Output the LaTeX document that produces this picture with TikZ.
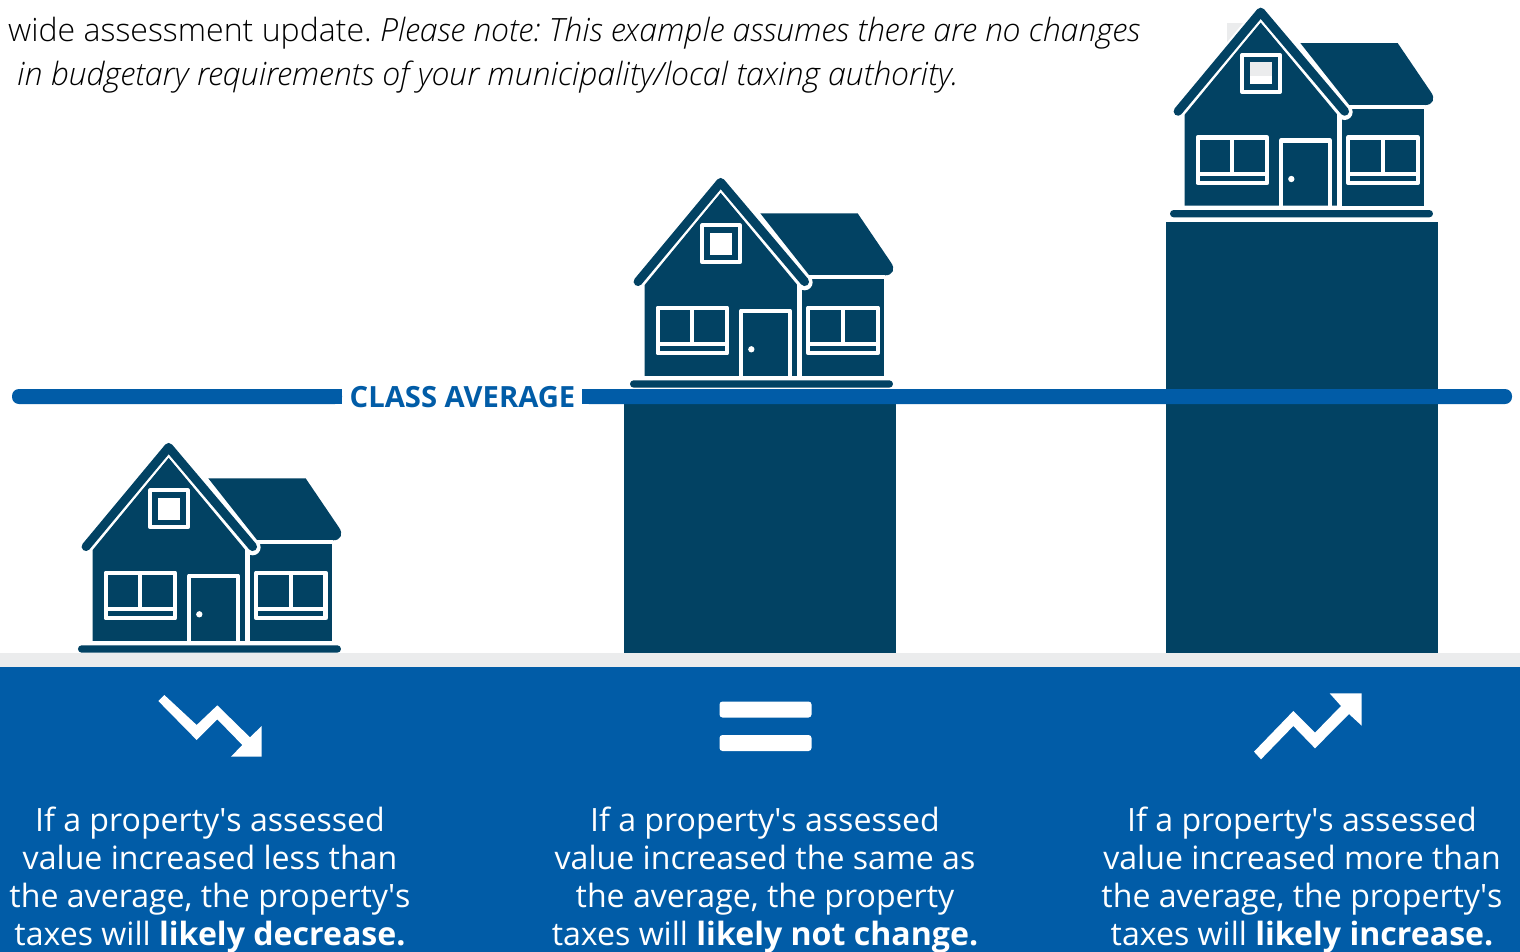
\documentclass[tikz,border=0pt]{standalone}
\usepackage{fontspec}
\setmainfont{Open Sans}
\newfontfamily\oslight{Open Sans Light}
\definecolor{navy}{HTML}{024263}
\definecolor{bluemain}{HTML}{015CA7}
\definecolor{stripgray}{HTML}{EBECED}
\tikzset{
  x=1pt,y=-1pt,
  wline/.style={draw=white,line width=4.3pt,line join=round},
  panel/.style={align=center,text=white,font=\fontsize{32.1}{38}\selectfont,anchor=north,inner sep=0pt},
  top/.style={anchor=base west,inner sep=0pt,font=\fontsize{32.05}{38}\selectfont\oslight\frenchspacing,text=black},
  pics/house/.style={code={
    \begin{scope}[x=0.3333pt,y=-0.3333pt]
      \fill[navy,rounded corners=3.6pt] (54,646) rectangle (843,668);
      \fill[navy] (98,360) -- (326,83) -- (556,360) -- (556,633) -- (98,633) -- cycle;
      \fill[navy] (570,343) rectangle (817,633);
      \fill[navy] (445,145) -- (737,145) -- (836,291) .. controls (852,312) and (842,331) .. (820,331) -- (592,331) -- cycle;
      \fill[white] (556,350) rectangle (570,645);
      \fill[white] (592,331) rectangle (820,343);
      \fill[white] (578,352) circle (24);
      \draw[white,line width=13pt,line cap=round,line join=round] (78,350) -- (326,52) -- (578,350);
      \draw[navy,line width=8.8pt,line cap=round,line join=round] (78,350) -- (326,52) -- (578,350);
      \draw[wline] (137,428) rectangle (345,565) (241,428) -- (241,538) (137,538) -- (345,538);
      \draw[wline] (589,428) rectangle (797,565) (693,428) -- (693,538) (589,538) -- (797,538);
      \draw[wline] (388,636) -- (388,437) -- (533,437) -- (533,636);
      \fill[white] (418,553) circle (9.5);
      \draw[wline] (271,181) rectangle (383,292);
      \fill[white] (293,203) rectangle (361,269);
    \end{scope}
  }},
}
\begin{document}
\begin{tikzpicture}
\useasboundingbox (0,0) rectangle (1520,952);
\fill[white] (0,0) rectangle (1520,952);
% upper text
\node[top] (t1) at (8,41.6) {wide assessment update. \itshape Please note: This example assumes there are no changes};
\node[top] (t2) at (17,85.6) {\itshape in budgetary requirements of your municipality/local taxing authority.};
% grey artefact behind upper house
\fill[stripgray] (1227,23) rectangle (1262,76);
% bars
\fill[navy] (624,392) rectangle (896,653);
\fill[navy] (1165.6,222) rectangle (1437.6,653);
% houses
\pic at (60,430) {house};
\pic at (612,165) {house};
\pic at (1152,-5.3) {house};
\fill[stripgray] (1249.6,62) rectangle (1272,76);
% ground and panel
\fill[stripgray] (0,653) rectangle (1520,667);
\fill[bluemain] (0,667) rectangle (1520,952);
% class average
\fill[bluemain,rounded corners=7pt] (12,389) -- (342,389) -- (342,404) -- (12,404) -- cycle;
\fill[bluemain] (20,389) rectangle (342,404);
\fill[bluemain,rounded corners=7pt] (582,389) -- (1512,389) -- (1512,404) -- (582,404) -- cycle;
\fill[bluemain] (582,389) rectangle (1500,404);
\node[inner sep=0pt,text=bluemain,font=\fontsize{29.2}{30}\selectfont\bfseries] (ca) at (462.5,397) {CLASS AVERAGE};
% icons
\begin{scope}[shift={(140,680)},x=0.3333pt,y=-0.3333pt]
  \fill[white] (73,45) -- (170,135) -- (232,76) -- (330,172) -- (365,138) -- (365,230) -- (273,230) -- (307,195) -- (232,118) -- (170,180) -- (55,63) -- cycle;
\end{scope}
\begin{scope}[shift={(1240,680)},x=0.3333pt,y=-0.3333pt]
  \fill[white] (42,215) -- (160,93) -- (225,158) -- (303,78) -- (269,40) -- (365,40) -- (365,137) -- (327,102) -- (225,205) -- (160,138) -- (63,238) -- cycle;
\end{scope}
\fill[white,rounded corners=3pt] (719.5,701.5) rectangle (811.5,717.5);
\fill[white,rounded corners=3pt] (719.5,735) rectangle (811.5,751);
% panel text
\node[panel] (p1) at (210,806.5) {If a property\textquotesingle s assessed\\value increased less than\\the average, the property\textquotesingle s\\taxes will {\bfseries likely decrease.}};
\node[panel] (p2) at (765,806.5) {If a property\textquotesingle s assessed\\value increased the same as\\the average, the property\\taxes will {\bfseries likely not change.}};
\node[panel] (p3) at (1302,806.5) {If a property\textquotesingle s assessed\\value increased more than\\the average, the property\textquotesingle s\\taxes will {\bfseries likely increase.}};
\end{tikzpicture}
\end{document}
